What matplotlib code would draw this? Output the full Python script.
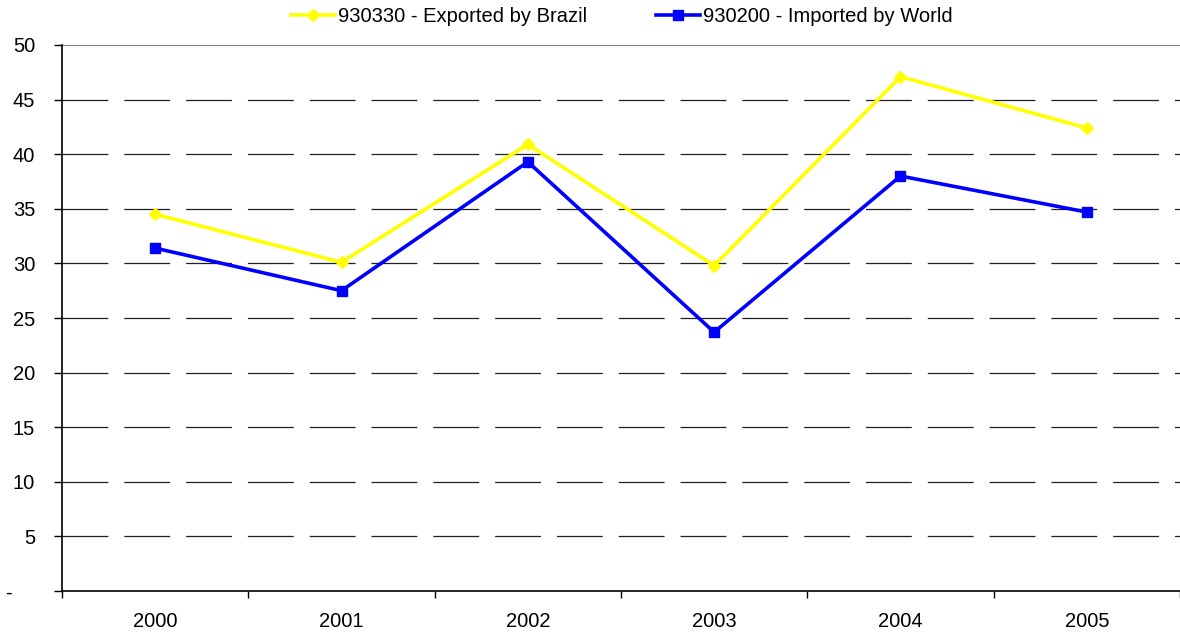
import matplotlib.pyplot as plt
from matplotlib.ticker import FixedLocator, NullFormatter
from matplotlib.transforms import ScaledTranslation

plt.rcParams['font.family'] = ['Liberation Sans', 'DejaVu Sans']

years = ["2000", "2001", "2002", "2003", "2004", "2005"]
exported_brazil = [34.5, 30.1, 40.9, 29.8, 47.1, 42.4]
imported_world = [31.4, 27.5, 39.3, 23.7, 38.0, 34.7]
y_ticks = [0, 5, 10, 15, 20, 25, 30, 35, 40, 45, 50]
y_labels = ["-", "5", "10", "15", "20", "25", "30", "35", "40", "45", "50"]

fig = plt.figure(figsize=(11.8, 6.33), dpi=100)
ax = fig.add_axes([62 / 1180, 1 - 591 / 633, 1 - 62 / 1180, (591 - 45) / 633])

x = list(range(len(years)))
ax.plot(x, exported_brazil, color="#ffff00", lw=2.6, marker="D", ms=6.5,
        label="930330 - Exported by Brazil")
ax.plot(x, imported_world, color="#0000ff", lw=2.6, marker="s", ms=6.5,
        label="930200 - Imported by World")

ax.set_xlim(-0.5, len(years) - 0.5)
ax.set_ylim(0, 50)
ax.set_yticks(y_ticks)
ax.set_yticklabels(y_labels, fontsize=14.5)

# dashed horizontal grid, dash ~46px, gap ~16px
glw = 0.9
for y in y_ticks[1:-1]:
    ax.axhline(y, color="#202020", lw=glw, dashes=(33 / glw, 11.5 / glw), zorder=0)
ax.axhline(50, color="#808080", lw=1.5, zorder=0)

ax.set_xticks(x)
ax.set_xticklabels(years, fontsize=14.5)
ax.tick_params(axis="x", length=0, pad=15)
ax.xaxis.set_minor_locator(FixedLocator([i - 0.5 for i in range(len(years) + 1)]))
ax.xaxis.set_minor_formatter(NullFormatter())
ax.tick_params(axis="x", which="minor", length=5, direction="out", width=1)
ax.tick_params(axis="y", length=5.8, direction="out", width=1, pad=13.5)

# the zero label "-" sits further left in the reference
zero_lbl = ax.get_yticklabels()[0]
zero_lbl.set_transform(zero_lbl.get_transform() + ScaledTranslation(-0.23, 0, fig.dpi_scale_trans))

for s in ["top", "right"]:
    ax.spines[s].set_visible(False)
ax.spines["left"].set_linewidth(1.2)
ax.spines["bottom"].set_linewidth(1.2)

fig.legend(loc="center", bbox_to_anchor=(622 / 1180, 1 - 17 / 633), ncol=2,
           frameon=False, fontsize=14.5, handlelength=2.2,
           handletextpad=0.15, columnspacing=3.4, borderpad=0)

fig.savefig("out.png", dpi=100)
